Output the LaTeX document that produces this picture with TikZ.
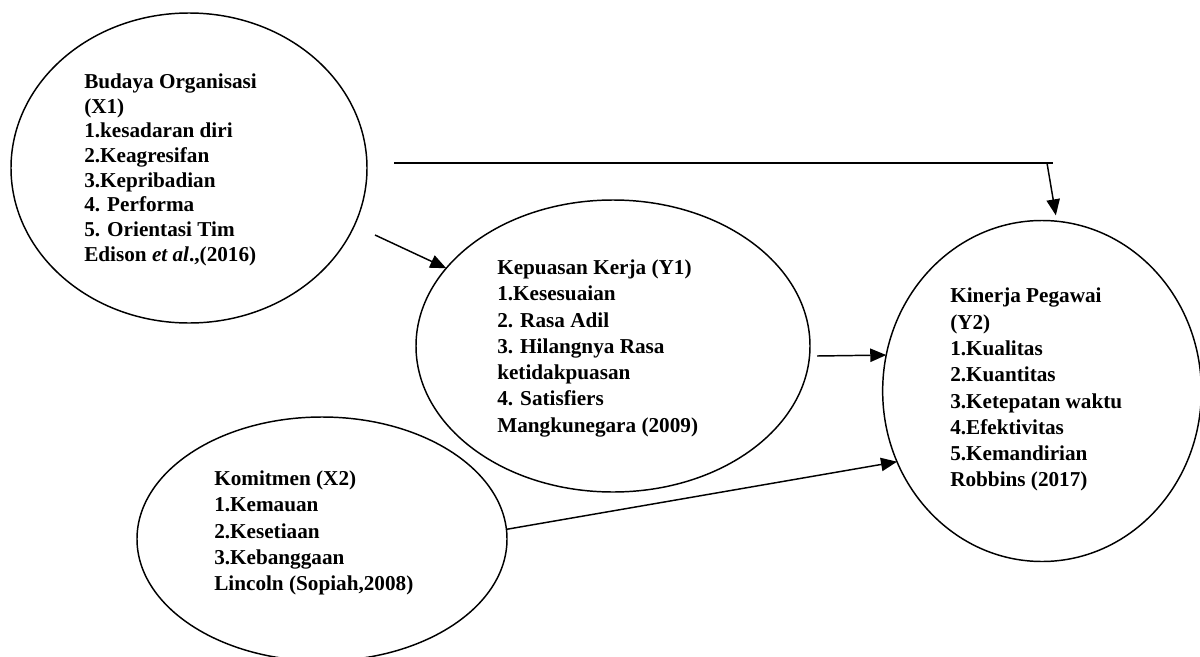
\documentclass[tikz,border=0pt]{standalone}
\usepackage{fontspec}
\setmainfont{Liberation Serif}
\usepackage{tikz}
\usetikzlibrary{arrows.meta,shapes.geometric}

\begin{document}
\begin{tikzpicture}[x=0.75pt, y=-0.75pt,
    blob/.style={draw, ellipse, line width=1.1pt, inner sep=0pt, outer sep=0pt},
    lbl/.style={anchor=north west, inner sep=0pt, align=left,
        font=\fontsize{15.9}{19.7}\selectfont\bfseries},
    arr/.style={-{Triangle[length=12pt,width=10pt]}, line width=1.1pt}]
    \useasboundingbox (0,0) rectangle (1200,657);

    % variables
    \node[blob, minimum width=267pt, minimum height=232.5pt] (bo) at (189,168) {};
    \node[blob, minimum width=295.5pt, minimum height=219pt] (kk) at (613,346) {};
    \node[blob, minimum width=239pt, minimum height=255.75pt] (kp) at (1042,391) {};
    \node[blob, minimum width=277.5pt, minimum height=183pt] (km) at (322,539) {};

    % indicators
    \node[lbl, font=\fontsize{15.9}{18.5}\selectfont\bfseries] (bo-t) at (84,73.5)
        {Budaya Organisasi\\(X1)\\1.kesadaran diri\\2.Keagresifan\\3.Kepribadian\\4. Performa\\5. Orientasi Tim\\Edison \textit{et al}.,(2016)};
    \node[lbl] (kk-t) at (497,259.5)
        {Kepuasan Kerja (Y1)\\1.Kesesuaian\\2. Rasa Adil\\3. Hilangnya Rasa\\ketidakpuasan\\4. Satisfiers\\Mangkunegara (2009)};
    \node[lbl] (kp-t) at (950,288)
        {Kinerja Pegawai\\(Y2)\\1.Kualitas\\2.Kuantitas\\3.Ketepatan waktu\\4.Efektivitas\\5.Kemandirian\\Robbins (2017)};
    \node[lbl] (km-t) at (214,470.5)
        {Komitmen (X2)\\1.Kemauan\\2.Kesetiaan\\3.Kebanggaan\\Lincoln (Sopiah,2008)};

    % free ends
    \coordinate (bo-out) at (375,235);
    \coordinate (kk-out) at (817,356);
    \coordinate (top-l) at (394,163);
    \coordinate (top-r) at (1053,163);
    \coordinate (drop) at (1047,163);

    % paths
    \draw[arr] (bo-out) -- (kk);
    \draw[arr] (kk-out) -- (kp.167);
    \draw[arr] (km.3) -- (kp.206);
    \draw[line width=1.1pt] (top-l) -- (top-r);
    \draw[arr, shorten >=4.5pt] (drop) -- (kp.85);
\end{tikzpicture}
\end{document}
